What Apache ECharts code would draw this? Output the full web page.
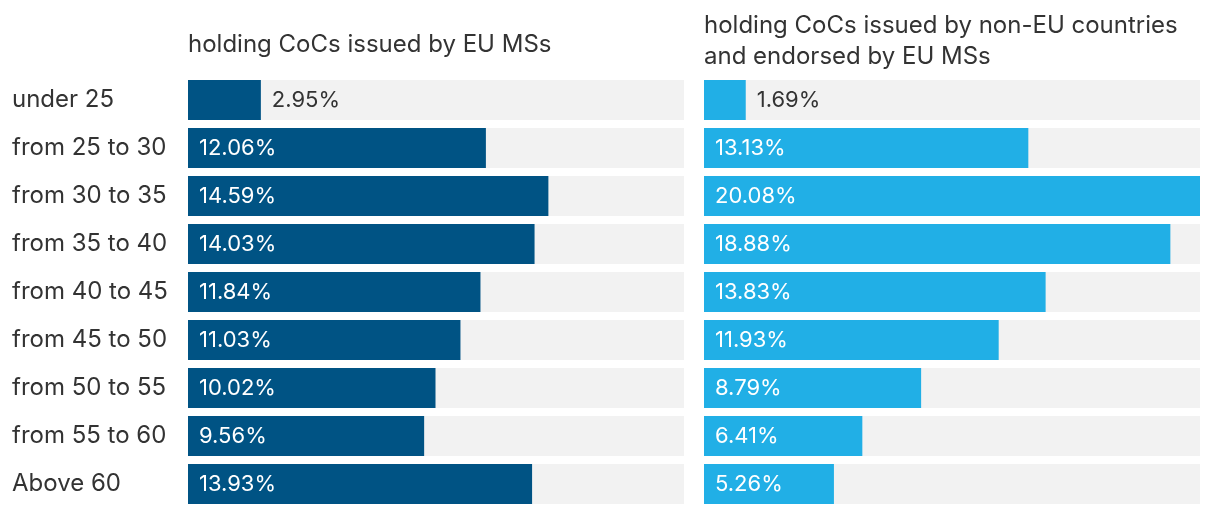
<!DOCTYPE html>
<html><head><meta charset="utf-8">
<script src="https://cdn.jsdelivr.net/npm/echarts@6/dist/echarts.min.js"></script>
<style>html,body{margin:0;padding:0;background:#fff}#c{width:1220px;height:514px}</style>
</head><body><div id="c"></div>
<script>
const categories = ["under 25","from 25 to 30","from 30 to 35","from 35 to 40","from 40 to 45","from 45 to 50","from 50 to 55","from 55 to 60","Above 60"];
const euValues = [2.95,12.06,14.59,14.03,11.84,11.03,10.02,9.56,13.93];
const nonEuValues = [1.69,13.13,20.08,18.88,13.83,11.93,8.79,6.41,5.26];
const titleLeft = "holding CoCs issued by EU MSs";
const titleRight = "holding CoCs issued by non-EU countries\nand endorsed by EU MSs";

const FONT = 'Inter, "Noto Sans", sans-serif';
const maxV = Math.max(...euValues, ...nonEuValues);
function mk(vals){
  return vals.map(v => ({
    value: v,
    label: v < 5 ? {position:'right', distance:11, color:'#333'} : {position:'insideLeft', distance:11, color:'#fff'}
  }));
}
const chart = echarts.init(document.getElementById('c'), null, {renderer:'canvas'});
chart.setOption({
  animation:false,
  textStyle:{fontFamily:FONT},
  title:[
    {text:titleLeft, left:183, top:24, textStyle:{fontFamily:FONT, fontSize:24, fontWeight:'normal', color:'#333', lineHeight:31}},
    {text:titleRight, left:699, top:5, textStyle:{fontFamily:FONT, fontSize:24, fontWeight:'normal', color:'#333', lineHeight:31}}
  ],
  grid:[
    {left:188, width:496, top:76, height:432},
    {left:704, width:496, top:76, height:432}
  ],
  xAxis:[
    {gridIndex:0, type:'value', min:0, max:maxV, show:false},
    {gridIndex:1, type:'value', min:0, max:maxV, show:false}
  ],
  yAxis:[
    {gridIndex:0, type:'category', data:categories, inverse:true,
     axisLine:{show:false}, axisTick:{show:false},
     axisLabel:{align:'left', margin:176, fontSize:24, color:'#333', fontFamily:FONT}},
    {gridIndex:1, type:'category', data:categories, inverse:true, show:false}
  ],
  series:[
    {type:'bar', xAxisIndex:0, yAxisIndex:0, data:mk(euValues), barWidth:40,
     itemStyle:{color:'#005384'}, showBackground:true, backgroundStyle:{color:'#f2f2f2'},
     label:{show:true, fontSize:22, fontFamily:FONT, formatter: p => p.value.toFixed(2)+'%'}},
    {type:'bar', xAxisIndex:1, yAxisIndex:1, data:mk(nonEuValues), barWidth:40,
     itemStyle:{color:'#21afe6'}, showBackground:true, backgroundStyle:{color:'#f2f2f2'},
     label:{show:true, fontSize:22, fontFamily:FONT, formatter: p => p.value.toFixed(2)+'%'}}
  ]
});
</script></body></html>
